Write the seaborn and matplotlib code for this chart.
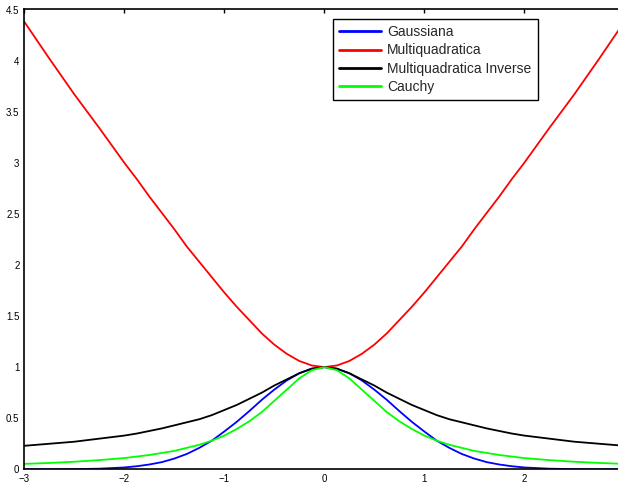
import numpy as np
import pandas as pd
import matplotlib
matplotlib.use("Agg")
import matplotlib.pyplot as plt
from matplotlib.lines import Line2D
import seaborn as sns

# Values, right half only (curves are symmetric about x=0)
x_half = [0.0, 0.125, 0.25, 0.375, 0.5, 0.625, 0.75, 0.875, 1.0, 1.125, 1.25,
          1.375, 1.5, 1.625, 1.75, 1.875, 2.0, 2.25, 2.5, 2.75, 3.0]
gaussiana = [1.0, 0.985, 0.94, 0.87, 0.78, 0.68, 0.57, 0.465, 0.37, 0.28, 0.21,
             0.15, 0.105, 0.07, 0.047, 0.03, 0.018, 0.006, 0.002, 0.0005, 0.0001]
multiquad = [1.0, 1.016, 1.06, 1.13, 1.22, 1.33, 1.46, 1.59, 1.73, 1.88, 2.03,
             2.18, 2.35, 2.51, 2.67, 2.84, 3.0, 3.34, 3.67, 4.02, 4.38]
multiquad_inv = [1.0, 0.985, 0.94, 0.88, 0.82, 0.75, 0.69, 0.63, 0.58, 0.53, 0.49,
                 0.46, 0.43, 0.40, 0.375, 0.35, 0.33, 0.30, 0.27, 0.25, 0.23]
cauchy = [1.0, 0.97, 0.89, 0.78, 0.67, 0.56, 0.47, 0.395, 0.33, 0.28, 0.24,
          0.21, 0.18, 0.16, 0.14, 0.125, 0.11, 0.09, 0.074, 0.062, 0.053]

labels = ["Gaussiana", "Multiquadratica", "Multiquadratica Inverse", "Cauchy"]
colors = {"Gaussiana": "#0000ff", "Multiquadratica": "#ff0000",
          "Multiquadratica Inverse": "#000000", "Cauchy": "#00ff00"}

y_ticks = [0, 0.5, 1, 1.5, 2, 2.5, 3, 3.5, 4, 4.5]
y_ticklabels = ["0", "0.5", "1", "1.5", "2", "2.5", "3", "3.5", "4", "4.5"]
x_ticks = [-3, -2, -1, 0, 1, 2]


def mirror(vals):
    return list(vals[:0:-1]) + list(vals)


x_full = [-v for v in x_half[:0:-1]] + x_half
series = [gaussiana, multiquad, multiquad_inv, cauchy]

frames = []
for name, vals in zip(labels, series):
    frames.append(pd.DataFrame({"x": x_full, "valor": mirror(vals), "funcion": name}))
df = pd.concat(frames, ignore_index=True)

sns.set_style("white")
plt.rcParams['font.family'] = ['Liberation Sans', 'DejaVu Sans']

fig = plt.figure(figsize=(6.18, 4.86), dpi=100)
# axes run a little past the right edge, like the cropped original
ax = fig.add_axes([24.3 / 618, (486 - 469.3) / 486, 600 / 618, (469.3 - 9.5) / 486])

sns.lineplot(data=df, x="x", y="valor", hue="funcion", hue_order=labels,
             palette=colors, linewidth=1.3, estimator=None, errorbar=None,
             legend=False, ax=ax)

ax.set_xlim(-3, 3)
ax.set_ylim(0, 4.5)
ax.set_xticks(x_ticks)
ax.set_yticks(y_ticks)
ax.set_yticklabels(y_ticklabels)
ax.set_xlabel("")
ax.set_ylabel("")
ax.tick_params(direction="in", length=3, width=1, top=True, right=True,
               labelsize=7, pad=3.5, colors="black")
for s in ax.spines.values():
    s.set_visible(True)
    s.set_color("black")
    s.set_linewidth(1.2)

handles = [Line2D([0], [0], color=colors[n], lw=2.0) for n in labels]
leg = fig.legend(handles, labels, loc="upper left",
                 bbox_to_anchor=(333 / 618, 1 - 19 / 486), borderaxespad=0,
                 fontsize=10, handlelength=3.0, handletextpad=0.45,
                 labelspacing=0.3, borderpad=0.45, fancybox=False,
                 framealpha=1, edgecolor="black")
leg.get_frame().set_linewidth(1.0)

fig.savefig("out.png", dpi=100)
